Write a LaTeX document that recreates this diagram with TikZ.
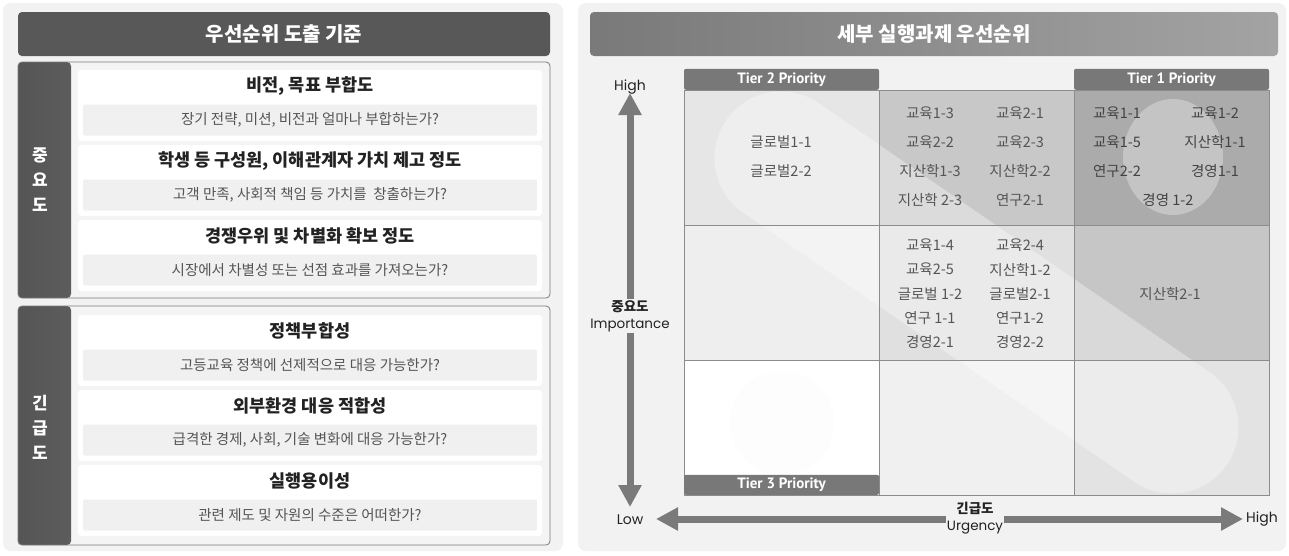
\documentclass[tikz,border=0pt]{standalone}
\usepackage{fontspec}
\setmainfont{Noto Sans CJK KR}
\newfontfamily\latin{Poppins}
\newfontfamily\tierfont{PT Sans}
\usetikzlibrary{arrows.meta,positioning}
\definecolor{panel}{HTML}{F2F2F2}
\definecolor{darkbar}{HTML}{585858}
\definecolor{barL}{HTML}{555555}
\definecolor{barR}{HTML}{9C9C9C}
\definecolor{grpline}{HTML}{7A7A7A}
\definecolor{grpfill}{HTML}{F4F4F4}
\definecolor{subfill}{HTML}{F0F0F0}
\definecolor{txtdark}{HTML}{222222}
\definecolor{txtgray}{HTML}{555555}
\definecolor{gridgray}{HTML}{8C8C8C}
\definecolor{tiergray}{HTML}{787878}
\definecolor{axgray}{HTML}{7A7A7A}
\definecolor{c11}{HTML}{E6E6E6}
\definecolor{c12}{HTML}{C8C8C8}
\definecolor{c13}{HTML}{ABABAB}
\definecolor{c21}{HTML}{EEEEEE}
\definecolor{c22}{HTML}{E0E0E0}
\definecolor{c23}{HTML}{C6C6C6}
\definecolor{c31}{HTML}{FFFFFF}
\definecolor{c32}{HTML}{F0F0F0}
\definecolor{c33}{HTML}{E3E3E3}
\begin{document}
\begin{tikzpicture}[x=1pt, y=-1pt,
  titlebar/.style={rounded corners=4pt, minimum height=44pt, text=white,
    font=\fontsize{20}{23}\selectfont\bfseries},
  grpbox/.style={draw=grpline, line width=0.8pt, rounded corners=4pt, fill=grpfill,
    minimum width=532pt, minimum height=236pt,
    path picture={\shade[left color=barL, right color=barR]
      (path picture bounding box.north west) rectangle ([xshift=53pt]path picture bounding box.south west);}},
  grplabel/.style={text=white, align=center, font=\fontsize{17}{25}\selectfont\bfseries},
  itembox/.style={fill=white, rounded corners=3pt, minimum width=464pt, minimum height=71pt},
  itemtitle/.style={text=txtdark, font=\fontsize{17.5}{20}\selectfont\bfseries},
  subbox/.style={fill=subfill, rounded corners=2pt, minimum width=454pt, minimum height=31pt,
    text=txtgray, font=\fontsize{14.5}{17}\selectfont},
  cell/.style={minimum width=195pt, minimum height=135pt, inner sep=0pt, outer sep=0pt},
  celltext/.style={text=txtgray, font=\fontsize{14.5}{17}\selectfont},
  tier/.style={fill=tiergray, rounded corners=2pt, minimum width=195pt, minimum height=21pt,
    inner sep=0pt, text=white, font=\fontsize{15}{17}\selectfont\tierfont\bfseries},
  axis/.style={draw=axgray, line width=7pt,
    {Triangle[length=22pt,width=22pt]}-{Triangle[length=22pt,width=22pt]}},
  axfont/.style={text=txtdark, font=\fontsize{14}{17}\selectfont\latin},
  axlabel/.style={fill=panel, inner sep=1pt, align=center, text=txtdark,
    font=\fontsize{13.5}{17}\selectfont}]
  \useasboundingbox[fill=white] (0,0) rectangle (1289,555);

  \fill[panel, rounded corners=8pt] (3,3) rectangle (563,551);
  \fill[panel, rounded corners=8pt] (578,3) rectangle (1286,551);

  \node[titlebar, fill=darkbar, minimum width=532pt] (lefttitle) at (284,34) {우선순위 도출 기준};
  \node[titlebar, left color=darkbar!80!white, right color=darkbar!55!white, minimum width=688pt]
    (righttitle) at (934,34) {세부 실행과제 우선순위};

  \node[grpbox] (imp) at (284,180) {};
  \node[grpbox, minimum height=239pt] (urg) at (284,425.5) {};
  \node[grplabel] (implabel) at (40,180) {중\\요\\도};
  \node[grplabel] (urglabel) at (40,427) {긴\\급\\도};

  \foreach \t/\a/\b [count=\i] in {
    70/{비전, 목표 부합도}/{장기 전략, 미션, 비전과 얼마나 부합하는가?},
    145/{학생 등 구성원, 이해관계자 가치 제고 정도}/{고객 만족, 사회적 책임 등 가치를~ 창출하는가?},
    220/{경쟁우위 및 차별화 확보 정도}/{시장에서 차별성 또는 선점 효과를 가져오는가?},
    315/{정책부합성}/{고등교육 정책에 선제적으로 대응 가능한가?},
    390/{외부환경 대응 적합성}/{급격한 경제, 사회, 기술 변화에 대응 가능한가?},
    465/{실행용이성}/{관련 제도 및 자원의 수준은 어떠한가?}} {
    \node[itembox] (item\i) at (310,\t+35.5) {};
    \node[itemtitle] (head\i) at (310,\t+16) {\a};
    \node[subbox] (sub\i) at (310,\t+50) {\b};
  }

  \foreach \r in {1,2,3} {
    \foreach \c in {1,2,3} {
      \node[cell, fill=c\r\c] (m\r\c) at ({684+195*(\c-0.5)}, {90+135*(\r-0.5)}) {};
    }
  }
  \fill[gray!1.5] (782,423) circle[radius=52pt];
  \begin{scope}
    \clip (m11.north west) rectangle (m33.south east);
    \draw[white, opacity=.35, line width=133pt, line cap=round] (781,158) -- (1172,427);
    \fill[white, opacity=.3] (1173,157) ellipse [x radius=50pt, y radius=58pt];
  \end{scope}
  \foreach \r in {1,2,3} {
    \foreach \c in {1,2,3} {
      \draw[gridgray, line width=1pt] (m\r\c.north west) rectangle (m\r\c.south east);
    }
  }

  \node[tier, anchor=south] (tier2) at (m11.north) {Tier 2 Priority};
  \node[tier, anchor=south] (tier1) at (m13.north) {Tier 1 Priority};
  \node[tier, anchor=south, minimum height=20pt] (tier3) at (m31.south) {Tier 3 Priority};

  \node[celltext] (g1) at (781,142) {글로벌1-1};
  \node[celltext] (g2) at (781,171) {글로벌2-2};
  \foreach \a/\b [count=\k] in {교육1-3/교육2-1, 교육2-2/교육2-3, 지산학1-3/지산학2-2, 지산학 2-3/연구2-1} {
    \node[celltext] (p\k) at (930,84+29*\k) {\a};
    \node[celltext] (q\k) at (1020,84+29*\k) {\b};
  }
  \foreach \a/\b [count=\k] in {교육1-1/교육1-2, 교육1-5/지산학1-1, 연구2-2/경영1-1} {
    \node[celltext, text=txtdark!85] (s\k) at (1117,84+29*\k) {\a};
    \node[celltext, text=txtdark!85] (t\k) at (1215,84+29*\k) {\b};
  }
  \node[celltext, text=txtdark!85] (s4) at (1168,200) {경영 1-2};
  \foreach \a/\b [count=\k] in {교육1-4/교육2-4, 교육2-5/지산학1-2, 글로벌 1-2/글로벌2-1, 연구 1-1/연구1-2, 경영2-1/경영2-2} {
    \node[celltext] (u\k) at (930,221+24.3*\k) {\a};
    \node[celltext] (w\k) at (1020,221+24.3*\k) {\b};
  }
  \node[celltext] (z1) at (1170,294) {지산학2-1};

  \node[axfont] (vhigh) at (630,87) {High};
  \node[axfont] (low) at (630,520) {Low};
  \node[axfont, anchor=west, inner sep=1pt] (hhigh) at (1245,519) {High};
  \coordinate (vtop) at (630,93);
  \coordinate (vbot) at (630,507);
  \coordinate (hleft) at (656,519);
  \coordinate (hright) at (1243,519);
  \draw[axis] (vtop) -- (vbot);
  \draw[axis] (hleft) -- (hright);
  \node[axlabel] (implab) at (630,316) {{\bfseries 중요도}\\{\latin Importance}};
  \node[axlabel] (urglab) at (975,518) {{\bfseries 긴급도}\\{\latin Urgency}};
\end{tikzpicture}
\end{document}
